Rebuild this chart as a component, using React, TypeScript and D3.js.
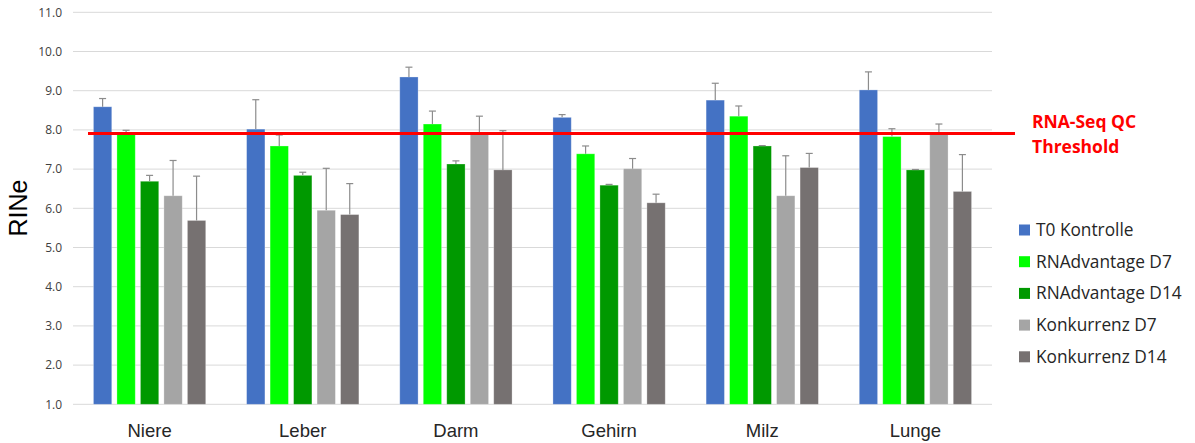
import React from "react"
import * as d3 from "d3"

const organs = ["Niere", "Leber", "Darm", "Gehirn", "Milz", "Lunge"]
const seriesNames = [
  "T0 Kontrolle",
  "RNAdvantage D7",
  "RNAdvantage D14",
  "Konkurrenz D7",
  "Konkurrenz D14",
]
const seriesColors = ["#4472c4", "#00ff00", "#009900", "#a5a5a5", "#767171"]

// mean RINe per organ, one array per series
const t0 = [8.59, 8.02, 9.35, 8.32, 8.76, 9.02]
const rnaD7 = [7.92, 7.59, 8.15, 7.39, 8.35, 7.83]
const rnaD14 = [6.69, 6.84, 7.13, 6.59, 7.59, 6.98]
const konD7 = [6.32, 5.95, 7.91, 7.01, 6.32, 7.91]
const konD14 = [5.69, 5.84, 6.98, 6.14, 7.04, 6.43]

// standard deviations (upper whisker only)
const t0Err = [0.21, 0.75, 0.25, 0.07, 0.43, 0.46]
const rnaD7Err = [0.07, 0.28, 0.33, 0.2, 0.26, 0.2]
const rnaD14Err = [0.15, 0.08, 0.08, 0.02, 0.01, 0.01]
const konD7Err = [0.9, 1.07, 0.44, 0.26, 1.02, 0.24]
const konD14Err = [1.13, 0.79, 1.0, 0.22, 0.36, 0.94]

const values = [t0, rnaD7, rnaD14, konD7, konD14]
const errors = [t0Err, rnaD7Err, rnaD14Err, konD7Err, konD14Err]

const yTicks = [1, 2, 3, 4, 5, 6, 7, 8, 9, 10, 11]
const threshold = 7.91
const thresholdLabel = ["RNA-Seq QC", "Threshold"]

const width = 1195
const height = 443
const font = "'Open Sans', 'Noto Sans', sans-serif"
const arial = "'Liberation Sans', Arial, sans-serif"

export default function App() {
  const x0 = d3.scaleBand<string>().domain(organs).range([73, 992]).padding(0)
  const x1 = d3
    .scaleBand<string>()
    .domain(seriesNames)
    .range([0, x0.bandwidth()])
    .paddingInner(0.22)
    .paddingOuter(0.87)
  const y = d3.scaleLinear().domain([1, 11]).range([404.3, 12.3])

  return (
    <div style={{ position: "absolute", left: 0, top: 0 }}>
      <svg width={width} height={height} style={{ display: "block", background: "#fff" }}>
        {yTicks.map((t) => (
          <g key={t}>
            <line x1={73} x2={992} y1={y(t)} y2={y(t)} stroke="#d9d9d9" strokeWidth={1} />
            <text
              x={62}
              y={y(t)}
              dy="0.35em"
              textAnchor="end"
              fontFamily={font}
              fontSize={12}
              fill="#404040"
            >
              {d3.format(".1f")(t)}
            </text>
          </g>
        ))}

        {organs.map((organ, i) => (
          <g key={organ} transform={`translate(${x0(organ)},0)`}>
            {seriesNames.map((s, j) => {
              const v = values[j][i]
              const e = errors[j][i]
              const bx = x1(s) as number
              const cx = bx + x1.bandwidth() / 2
              return (
                <g key={s}>
                  <rect
                    x={bx}
                    y={y(v)}
                    width={x1.bandwidth()}
                    height={y(1) - y(v)}
                    fill={seriesColors[j]}
                    stroke="#ffffff"
                    strokeOpacity={0.35}
                    strokeWidth={0.8}
                  />
                  <line x1={cx} x2={cx} y1={y(v)} y2={y(v + e)} stroke="#8c8c8c" strokeWidth={1.2} />
                  <line x1={cx - 3.5} x2={cx + 3.5} y1={y(v + e)} y2={y(v + e)} stroke="#8c8c8c" strokeWidth={1.2} />
                </g>
              )
            })}
            <text
              x={x0.bandwidth() / 2}
              y={437}
              textAnchor="middle"
              fontFamily={arial}
              fontSize={18.5}
              fill="#262626"
            >
              {organ}
            </text>
          </g>
        ))}

        <line x1={88} x2={1015} y1={y(threshold)} y2={y(threshold)} stroke="#ff0000" strokeWidth={3} />
        {thresholdLabel.map((t, i) => (
          <text
            key={t}
            x={1032}
            y={128 + i * 25}
            fontFamily={font}
            fontSize={17.5}
            fontWeight="bold"
            fill="#ff0000"
          >
            {t}
          </text>
        ))}

        <text
          transform="translate(27,208) rotate(-90)"
          textAnchor="middle"
          fontFamily={arial}
          fontSize={25}
          fill="#000"
        >
          RINe
        </text>

        {seriesNames.map((s, j) => (
          <g key={s} transform={`translate(1019,${230 + j * 31.7})`}>
            <rect x={0} y={-5.5} width={11} height={11} fill={seriesColors[j]} />
            <text x={17} y={0} dy="0.35em" fontFamily={font} fontSize={17.3} fill="#262626">
              {s}
            </text>
          </g>
        ))}
      </svg>
    </div>
  )
}
